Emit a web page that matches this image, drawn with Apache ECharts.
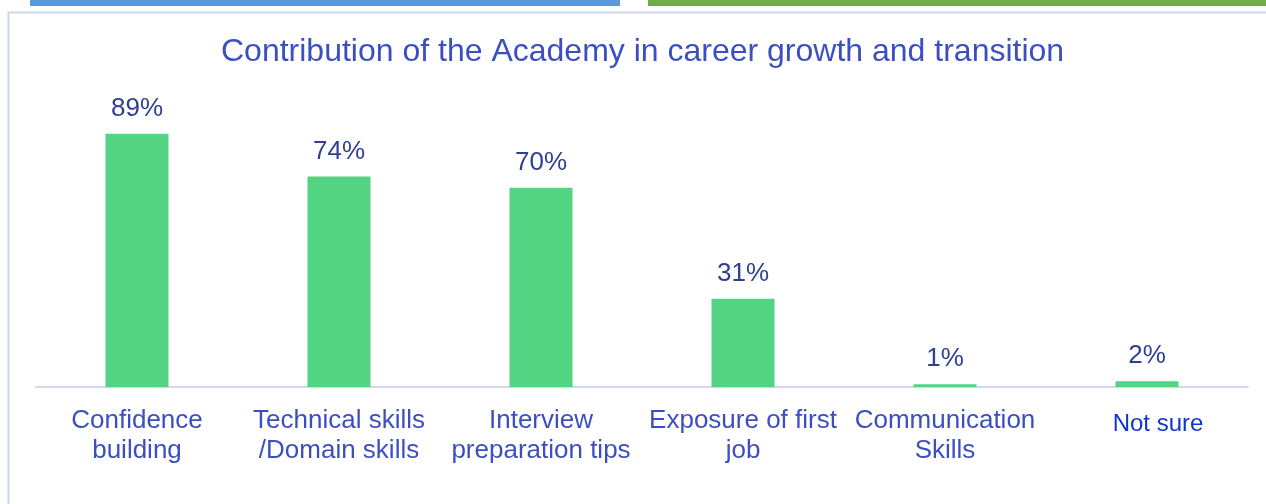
<!DOCTYPE html>
<html><head><meta charset="utf-8">
<script src="https://cdn.jsdelivr.net/npm/echarts@6/dist/echarts.min.js"></script>
<style>html,body{margin:0;padding:0;background:#fff;}#c{width:1266px;height:504px;}</style>
</head><body><div id="c"></div>
<script>
const titleText = 'Contribution of the Academy in career growth and transition';
const categories = ['Confidence\nbuilding', 'Technical skills\n/Domain skills', 'Interview\npreparation tips', 'Exposure of first\njob', 'Communication\nSkills', 'Not sure'];
const values = [89, 74, 70, 31, 1, 2];

const chart = echarts.init(document.getElementById('c'), null, {renderer: 'canvas'});
const font = 'Liberation Sans';
chart.setOption({
  animation: false,
  backgroundColor: '#fff',
  graphic: [
    {type: 'rect', shape: {x: 30, y: 0, width: 590, height: 6}, style: {fill: '#5b9bd5'}},
    {type: 'rect', shape: {x: 648, y: 0, width: 620, height: 6}, style: {fill: '#70ad47'}},
    {type: 'rect', shape: {x: 8.5, y: 12.5, width: 1300, height: 600}, style: {fill: 'none', stroke: '#cdd6ef', lineWidth: 2}}
  ],
  title: {
    text: titleText, left: 216, top: 31,
    textStyle: {fontFamily: font, fontSize: 32, fontWeight: 'normal', color: '#3b4fc2'}
  },
  grid: {left: 36, right: 18, top: 102.5, bottom: 117},
  xAxis: {
    type: 'category', data: categories,
    axisLine: {lineStyle: {color: '#d0d7f0', width: 2}},
    axisTick: {show: false},
    axisLabel: {
      interval: 0, margin: 19, lineHeight: 30,
      fontFamily: font, fontSize: 26, color: '#3b4fc2',
      formatter: function (v) { return v === 'Not sure' ? '{ns|' + v + '}' : v; },
      rich: {ns: {fontFamily: font, fontSize: 24, color: '#1035cc', padding: [7,0,0,22]}}
    }
  },
  yAxis: {type: 'value', min: 0, max: 100, show: false, splitLine: {show: false}},
  series: [{
    type: 'bar', data: values, barWidth: 63,
    itemStyle: {color: '#52d483'},
    label: {show: true, position: 'top', distance: 12, formatter: '{c}%',
      fontFamily: font, fontSize: 26, color: '#2f3f96'}
  }]
});
</script></body></html>
